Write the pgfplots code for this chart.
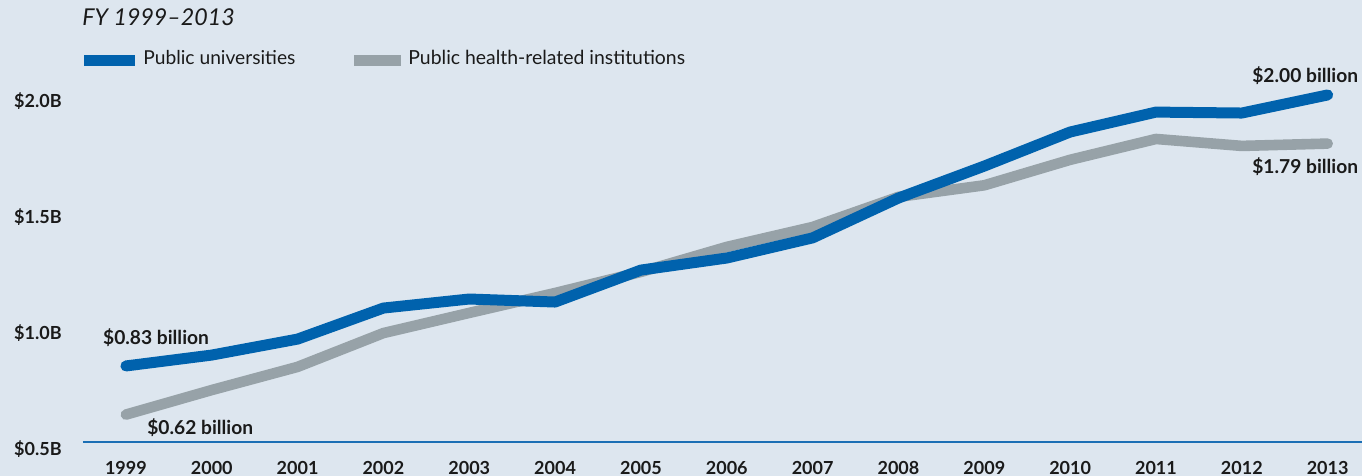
\documentclass[border=0pt]{standalone}
\usepackage{fontspec}
\setmainfont{Lato}
\usepackage{pgfplots}
\pgfplotsset{compat=1.18}
\definecolor{bg}{HTML}{DDE6EF}
\definecolor{blu}{HTML}{0062AD}
\definecolor{gry}{HTML}{97A2A8}
\definecolor{txt}{HTML}{1A1A1A}
\definecolor{axblue}{HTML}{1B6FB5}
\begin{document}
\begin{tikzpicture}
\fill[bg] (0,0) rectangle (681pt,238pt);
\useasboundingbox (0,0) rectangle (681pt,238pt);
\node[anchor=base west, inner sep=0pt, font=\fontsize{11.6}{13}\selectfont\itshape, text=txt] at (41pt,225pt) {FY 1999--2013};
\fill[blu] (42pt,205pt) rectangle (67.5pt,210.5pt);
\node[anchor=base west, inner sep=0pt, font=\fontsize{9.6}{12}\selectfont, text=txt] at (71.5pt,205.5pt) {Public universities};
\fill[gry] (177pt,205pt) rectangle (200.5pt,210.5pt);
\node[anchor=base west, inner sep=0pt, font=\fontsize{9.7}{12}\selectfont, text=txt] at (204pt,205.5pt) {Public health-related institutions};
\begin{axis}[
  at={(41.5pt,16.8pt)}, anchor=south west,
  scale only axis, width=639.5pt, height=185.3pt,
  xmin=1998.5, xmax=2013.4, ymin=0.5, ymax=2.1,
  axis x line*=bottom, axis y line*=left,
  x axis line style={draw=axblue, line width=1pt, -},
  y axis line style={draw=none, -},
  xtick={1999,2000,2001,2002,2003,2004,2005,2006,2007,2008,2009,2010,2011,2012,2013},
  xticklabels={1999,2000,2001,2002,2003,2004,2005,2006,2007,2008,2009,2010,2011,2012,2013},
  ytick={0.5,1,1.5,2},
  yticklabels={\$0.5B,\$1.0B,\$1.5B,\$2.0B},
  major tick length=0pt,
  tick label style={font=\fontsize{9}{11}\selectfont\bfseries, text=txt},
  xticklabel style={anchor=north, inner sep=0pt, yshift=-9.3pt},
  yticklabel style={anchor=east, inner sep=0pt, xshift=-10.5pt, yshift=-3.3pt},
  clip=false,
]
\addplot[gry, line width=5.3pt, line cap=round, line join=round] coordinates {
(1999,0.62) (2000,0.726) (2001,0.826) (2002,0.972) (2003,1.059) (2004,1.145)
(2005,1.236) (2006,1.344) (2007,1.43) (2008,1.56) (2009,1.61) (2010,1.72)
(2011,1.81) (2012,1.78) (2013,1.79)};
\addplot[blu, line width=5.5pt, line cap=round, line join=round] coordinates {
(1999,0.83) (2000,0.877) (2001,0.946) (2002,1.080) (2003,1.119) (2004,1.106)
(2005,1.244) (2006,1.296) (2007,1.383) (2008,1.555) (2009,1.693) (2010,1.840)
(2011,1.926) (2012,1.922) (2013,2.00)};
\node[anchor=base west, inner sep=0pt, font=\fontsize{9.6}{11}\selectfont\bfseries, text=txt] at (axis cs:1998.73,0.923) {\$0.83 billion};
\node[anchor=base west, inner sep=0pt, font=\fontsize{9.6}{11}\selectfont\bfseries, text=txt] at (axis cs:1999.245,0.534) {\$0.62 billion};
\node[anchor=base east, inner sep=0pt, font=\fontsize{9.6}{11}\selectfont\bfseries, text=txt] at (axis cs:2013.36,2.054) {\$2.00 billion};
\node[anchor=base east, inner sep=0pt, font=\fontsize{9.6}{11}\selectfont\bfseries, text=txt] at (axis cs:2013.36,1.661) {\$1.79 billion};
\end{axis}
\end{tikzpicture}
\end{document}
